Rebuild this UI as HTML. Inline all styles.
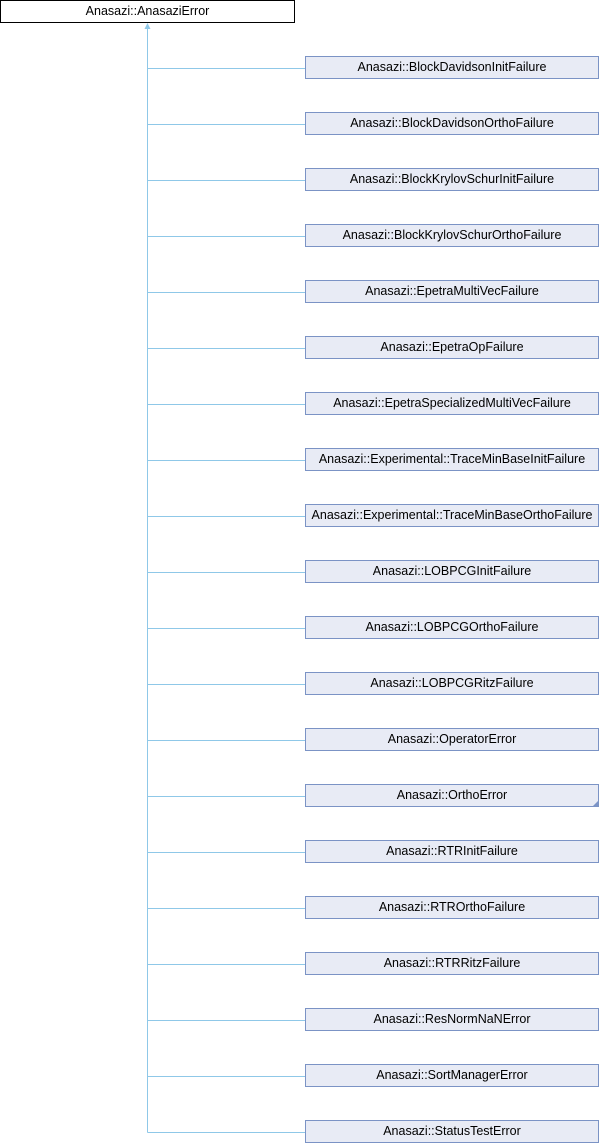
<!DOCTYPE html>
<html><head><style>
body{margin:0;width:600px;height:1144px;background:#fff;position:relative;overflow:hidden;font-family:"Liberation Sans",sans-serif;font-size:12.5px;}
.b{position:absolute;left:305px;width:292px;height:21px;background:#e8ebf5;border:1px solid #7b93c5;text-align:center;line-height:21px;color:#000;}
.t{position:absolute;left:0;top:0;width:293px;height:21px;border:1px solid #000;background:#fff;text-align:center;line-height:21px;}
svg{position:absolute;left:0;top:0}
</style></head><body>
<svg width="600" height="1144">
<g stroke="#8fc8e8" stroke-width="1" fill="none">
<line x1="147.5" y1="28" x2="147.5" y2="1132.5"/>
</g>
<polygon points="147.5,23 144.5,29 150.5,29" fill="#8fc8e8"/>
<g id="h" stroke="#8fc8e8" stroke-width="1"></g>
</svg>
<div class="t">Anasazi::AnasaziError</div>
<div id="c"></div>
<script>
var n=["BlockDavidsonInitFailure","BlockDavidsonOrthoFailure","BlockKrylovSchurInitFailure","BlockKrylovSchurOrthoFailure","EpetraMultiVecFailure","EpetraOpFailure","EpetraSpecializedMultiVecFailure","Experimental::TraceMinBaseInitFailure","Experimental::TraceMinBaseOrthoFailure","LOBPCGInitFailure","LOBPCGOrthoFailure","LOBPCGRitzFailure","OperatorError","OrthoError","RTRInitFailure","RTROrthoFailure","RTRRitzFailure","ResNormNaNError","SortManagerError","StatusTestError"];
var h="",s="";
for(var i=0;i<n.length;i++){var y=68+i*56;
s+='<line x1="147.5" y1="'+(y+0.5)+'" x2="305" y2="'+(y+0.5)+'"/>';
h+='<div class="b" style="top:'+(y-12)+'px">Anasazi::'+n[i]+(i==13?'<span style="position:absolute;right:0;bottom:0;width:0;height:0;border-left:5px solid transparent;border-bottom:5px solid #7b93c5"></span>':'')+'</div>';}
document.getElementById('h').innerHTML=s;
document.getElementById('c').innerHTML=h;
</script>
</body></html>
